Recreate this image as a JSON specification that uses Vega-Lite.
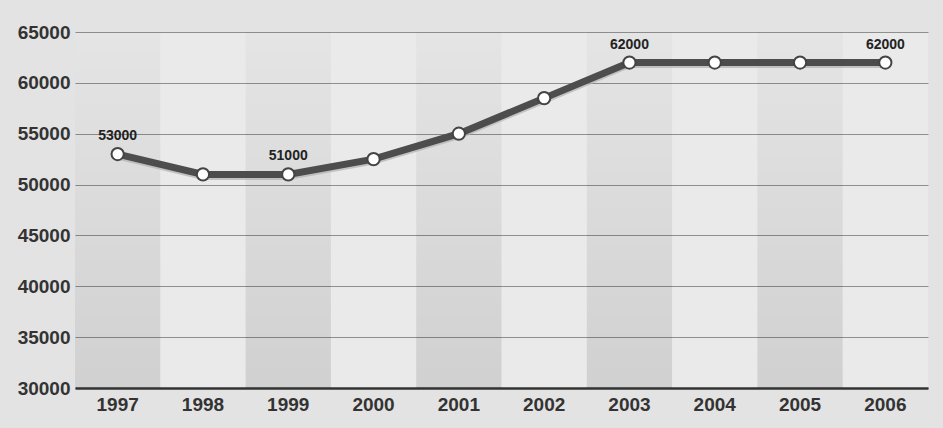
{
  "$schema": "https://vega.github.io/schema/vega-lite/v6.json",
  "autosize": {"type": "none"},
  "width": 853,
  "height": 356,
  "padding": {"left": 75, "top": 32, "right": 15, "bottom": 40},
  "background": "#e3e3e3",
  "config": {
    "view": {"fill": "#eaeaea", "stroke": null},
    "font": "Liberation Sans"
  },
  "data": {
    "values": [
      {"year": "1997", "value": 53000},
      {"year": "1998", "value": 51000},
      {"year": "1999", "value": 51000},
      {"year": "2000", "value": 52500},
      {"year": "2001", "value": 55000},
      {"year": "2002", "value": 58500},
      {"year": "2003", "value": 62000},
      {"year": "2004", "value": 62000},
      {"year": "2005", "value": 62000},
      {"year": "2006", "value": 62000}
    ]
  },
  "encoding": {
    "x": {
      "field": "year",
      "type": "ordinal",
      "scale": {"paddingInner": 0, "paddingOuter": 0},
      "axis": {
        "title": null,
        "labelAngle": 0,
        "labelFontSize": 19,
        "labelFontWeight": "bold",
        "labelColor": "#333333",
        "labelPadding": 7,
        "ticks": false,
        "domainColor": "#333333",
        "domainWidth": 2.5
      }
    }
  },
  "layer": [
    {
      "transform": [{"filter": "toNumber(datum.year) % 2 == 1"}],
      "mark": {
        "type": "bar",
        "color": {
          "gradient": "linear",
          "x1": 0, "y1": 0, "x2": 0, "y2": 1,
          "stops": [
            {"offset": 0, "color": "rgba(0,0,0,0.025)"},
            {"offset": 1, "color": "rgba(0,0,0,0.11)"}
          ]
        }
      },
      "encoding": {
        "y": {
          "datum": 65000,
          "type": "quantitative",
          "scale": {"domain": [30000, 65000], "nice": false},
          "axis": {
            "title": null,
            "values": [30000, 35000, 40000, 45000, 50000, 55000, 60000, 65000],
            "format": "d",
            "labelFontSize": 19,
            "labelFontWeight": "bold",
            "labelColor": "#333333",
            "labelPadding": 5,
            "ticks": false,
            "domain": false,
            "grid": true,
            "gridColor": "#8f8f8f",
            "gridWidth": 1
          }
        },
        "y2": {"datum": 30000}
      }
    },
    {
      "mark": {"type": "line", "color": "#b0b0b0", "strokeWidth": 5, "yOffset": 3, "opacity": 0.7},
      "encoding": {"y": {"field": "value", "type": "quantitative"}}
    },
    {
      "mark": {"type": "line", "color": "#4d4d4d", "strokeWidth": 7},
      "encoding": {"y": {"field": "value", "type": "quantitative"}}
    },
    {
      "mark": {"type": "point", "shape": "circle", "filled": true, "fill": "#ffffff", "stroke": "#444444", "strokeWidth": 2, "size": 150, "opacity": 1},
      "encoding": {"y": {"field": "value", "type": "quantitative"}}
    },
    {
      "transform": [{"filter": "indexof(['1997','1999','2003','2006'], datum.year) >= 0"}],
      "mark": {"type": "text", "fontSize": 14, "fontWeight": "bold", "color": "#222222", "baseline": "bottom", "dy": -11},
      "encoding": {
        "y": {"field": "value", "type": "quantitative"},
        "text": {"field": "value", "type": "quantitative", "format": "d"}
      }
    }
  ]
}
